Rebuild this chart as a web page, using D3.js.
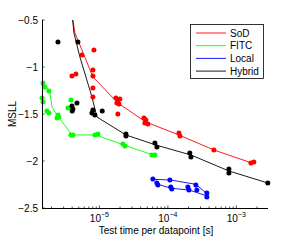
<!DOCTYPE html>
<html><head><meta charset="utf-8">
<script src="https://cdn.jsdelivr.net/npm/d3@7"></script>
<style>
html,body{margin:0;padding:0;background:#fff;}
svg{display:block;font-family:"Liberation Sans",Arial,sans-serif;}
</style></head>
<body>
<svg id="c" width="300" height="241"></svg>
<script>
// ---- data ----
const seriesNames = ["SoD", "FITC", "Local", "Hybrid"];
const seriesColors = ["#ff0000", "#00ff00", "#0000ff", "#000000"];
const yTicks = [-0.5, -1, -1.5, -2, -2.5];
const xTicks = [1e-5, 1e-4, 1e-3];
const xTickExp = ["−5", "−4", "−3"];

// SoD (red)
const sodLine = [[4.0e-6,-0.45],[4.39e-6,-0.638],[8.04e-6,-1.106],[1.86e-5,-1.383],[4.77e-5,-1.585],[1.45e-4,-1.723],[4.70e-4,-1.883],[1.68e-3,-2.021]];
const sodPts = [[5.56e-6,-0.872],[8.31e-6,-0.819],[3.97e-6,-1.096],[4.54e-6,-1.074],[8.04e-6,-1.032],[8.04e-6,-1.096],[8.04e-6,-1.223],[8.04e-6,-1.319],
  [1.74e-5,-1.330],[1.86e-5,-1.351],[1.99e-5,-1.340],[1.80e-5,-1.383],[1.93e-5,-1.394],[1.86e-5,-1.500],
  [4.47e-5,-1.543],[4.77e-5,-1.564],[5.10e-5,-1.606],[4.61e-5,-1.596],
  [1.45e-4,-1.702],[1.50e-4,-1.734],[4.70e-4,-1.883],[1.63e-3,-2.021],[1.80e-3,-2.011]];

// FITC (green)
const fitcLine = [[1.50e-6,-1.170],[1.89e-6,-1.266],[2.03e-6,-1.426],[2.40e-6,-1.511],[3.97e-6,-1.723],[8.89e-6,-1.723],[2.28e-5,-1.830],[6.04e-5,-1.936]];
const fitcPts = [[1.50e-6,-1.170],[1.60e-6,-1.213],[1.83e-6,-1.255],[1.45e-6,-1.330],[1.50e-6,-1.372],[1.71e-6,-1.468],[1.83e-6,-1.489],
  [2.48e-6,-1.511],[2.56e-6,-1.532],[2.40e-6,-1.543],[3.84e-6,-1.351],[3.47e-6,-1.436],
  [3.84e-6,-1.723],[4.10e-6,-1.723],[8.60e-6,-1.723],[9.51e-6,-1.713],[2.20e-5,-1.819],[2.36e-5,-1.840],[5.83e-5,-1.936],[6.46e-5,-1.936]];

// Local (blue) - two lines
const localLineA = [[6.09e-5,-2.195],[1.09e-4,-2.202],[2.56e-4,-2.248],[3.67e-4,-2.344]];
const localLineB = [[6.84e-5,-2.245],[1.13e-4,-2.290],[2.05e-4,-2.309],[3.74e-4,-2.372]];
const localPts = [[6.04e-5,-2.191],[6.9e-5,-2.234],[7.14e-5,-2.255],[1.07e-4,-2.202],[1.10e-4,-2.277],[1.14e-4,-2.298],
  [1.96e-4,-2.277],[2.03e-4,-2.309],[2.56e-4,-2.255],[2.65e-4,-2.309],[3.71e-4,-2.340],[3.71e-4,-2.383]];

// Hybrid (black)
const hybLine = [[4.0e-6,-0.45],[4.25e-6,-0.638],[5.19e-6,-0.894],[7.78e-6,-1.319],[9.20e-6,-1.532],[2.44e-5,-1.723],[6.68e-5,-1.830],[2.17e-4,-1.936],[7.78e-4,-2.106],[2.88e-3,-2.234]];
const hybPts = [[2.48e-6,-0.734],[4.85e-6,-0.734],[3.97e-6,-1.415],[4.10e-6,-1.447],[4.0e-6,-1.468],[4.70e-6,-1.383],
  [8.04e-6,-1.457],[8.60e-6,-1.511],[7.78e-6,-1.489],[1.10e-5,-1.468],[2.44e-5,-1.713],[2.44e-5,-1.734],
  [6.46e-5,-1.809],[6.92e-5,-1.851],[2.09e-4,-1.915],[2.17e-4,-1.957],[7.78e-4,-2.085],[7.78e-4,-2.128],[2.88e-3,-2.234]];

// ---- layout ----
const svg = d3.select("#c");
const L = 42, R = 268, T = 20, B = 208;
const x = d3.scaleLog().domain([1.45e-6, 2.9e-3]).range([L, R]);
const y = d3.scaleLinear().domain([-2.5, -0.5]).range([B, T]);

svg.append("defs").append("clipPath").attr("id","clip")
  .append("rect").attr("x",L).attr("y",T).attr("width",R-L).attr("height",B-T);

const plot = svg.append("g").attr("clip-path","url(#clip)");
const line = d3.line().x(d=>x(d[0])).y(d=>y(d[1]));

const lines = [[sodLine,0],[fitcLine,1],[localLineA,2],[localLineB,2],[hybLine,3]];
const pts = [[sodPts,0],[fitcPts,1],[localPts,2],[hybPts,3]];

lines.forEach(([data,i])=>{
  plot.append("path").attr("d", line(data)).attr("fill","none")
    .attr("stroke", seriesColors[i]).attr("stroke-width",0.9);
});
pts.forEach(([data,i])=>{
  svg.append("g").selectAll("circle").data(data).enter().append("circle")
    .attr("cx",d=>x(d[0])).attr("cy",d=>y(d[1])).attr("r",2.5)
    .attr("fill",seriesColors[i]);
});

// ---- axes ----
const ax = svg.append("g").attr("stroke","#000").attr("fill","none");
ax.append("line").attr("x1",L).attr("x2",L).attr("y1",T).attr("y2",B).attr("stroke-width",1).attr("shape-rendering","crispEdges");
ax.append("line").attr("x1",L).attr("x2",R).attr("y1",B).attr("y2",B).attr("stroke-width",1).attr("shape-rendering","crispEdges");

// y ticks (inward)
yTicks.forEach(v=>{
  ax.append("line").attr("x1",L).attr("x2",L+2.5).attr("y1",y(v)).attr("y2",y(v)).attr("stroke-width",0.7);
  svg.append("text").attr("x",L-4).attr("y",y(v)).attr("dy","0.35em")
    .attr("text-anchor","end").attr("font-size",10).text(d3.format("")(v).replace("-","−"));
});

// x minor + major ticks
const minor = [];
for (let e=-6; e<=-3; e++) for (let m=1; m<=9; m++) { const t = m*Math.pow(10,e); if (t>=x.domain()[0] && t<=x.domain()[1]) minor.push([t,m===1]); }
minor.forEach(([t,major])=>{
  ax.append("line").attr("x1",x(t)).attr("x2",x(t)).attr("y1",B).attr("y2",B-(major?2.5:1.5)).attr("stroke-width",0.7);
});
xTicks.forEach((t,i)=>{
  const tx = svg.append("text").attr("x",x(t)).attr("y",B+14).attr("text-anchor","middle").attr("font-size",10);
  tx.append("tspan").text("10");
  tx.append("tspan").attr("dy",-5).attr("font-size",7).text(xTickExp[i]);
});

// axis titles
svg.append("text").attr("x",(L+R)/2+1).attr("y",234).attr("text-anchor","middle").attr("font-size",10)
  .text("Test time per datapoint [s]");
svg.append("text").attr("transform",`translate(16,${(T+B)/2}) rotate(-90)`).attr("text-anchor","middle").attr("font-size",10)
  .text("MSLL");

// ---- legend ----
const lg = svg.append("g");
lg.append("rect").attr("x",190.5).attr("y",24.5).attr("width",73).attr("height",54)
  .attr("fill","#fff").attr("stroke","#000").attr("stroke-width",0.8);
seriesNames.forEach((n,i)=>{
  const yy = 33 + i*12.7;
  lg.append("line").attr("x1",196).attr("x2",226).attr("y1",yy).attr("y2",yy)
    .attr("stroke",seriesColors[i]).attr("stroke-width",0.9);
  lg.append("text").attr("x",230).attr("y",yy).attr("dy","0.35em").attr("font-size",10).text(n);
});
</script>
</body></html>
